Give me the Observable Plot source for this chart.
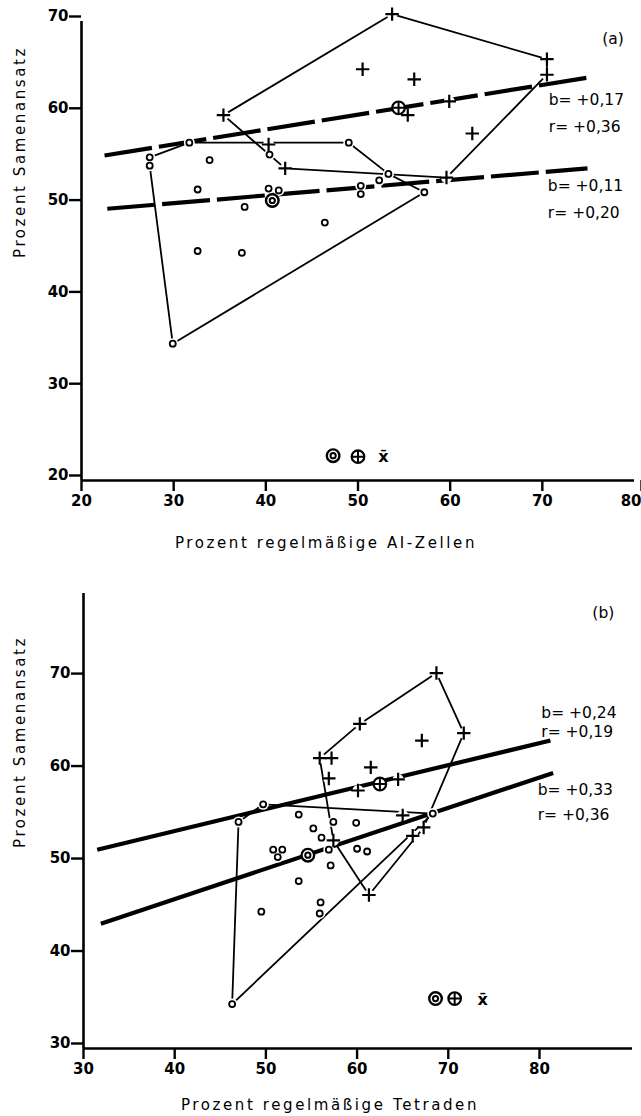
<!DOCTYPE html>
<html><head><meta charset="utf-8">
<script src="https://cdn.jsdelivr.net/npm/d3@7"></script>
<script src="https://cdn.jsdelivr.net/npm/@observablehq/plot@0.6"></script>
<style>
body{margin:0;background:#fff;}
#chart svg{display:block;overflow:visible;}
g[aria-label="x-axis tick label"] text, g[aria-label="y-axis tick label"] text{font-weight:bold;}
</style></head><body><div id="chart"></div>
<script>
// ---------- Panel (a): Prozent regelmäßige AI-Zellen ----------
const aCircles = [[27.4,55.2],[27.4,54.3],[31.7,56.8],[33.9,54.9],[32.6,51.7],[37.7,49.8],[40.4,55.5],[40.3,51.8],[41.4,51.6],[32.6,45.0],[37.4,44.8],[29.9,34.9],[49.0,56.8],[53.3,53.4],[52.3,52.7],[50.3,52.1],[50.3,51.2],[57.2,51.4],[46.4,48.1]];
const aPluses = [[53.7,70.8],[70.5,65.9],[70.5,64.2],[50.5,64.8],[56.1,63.7],[59.9,61.3],[62.4,57.8],[55.4,59.8],[59.6,53.0],[35.4,59.8],[40.3,56.6],[42.1,54.0]];
const aMeanCircle = [[40.7,50.5]];
const aMeanPlus = [[54.4,60.6]];
const aHullPlus = [[35.4,59.8],[53.7,70.8],[70.5,65.9],[70.5,64.2],[59.6,53.0],[42.1,54.0],[35.4,59.8]];
const aHullCircle = [[27.4,54.3],[27.4,55.2],[31.7,56.8],[49.0,56.8],[53.3,53.4],[57.2,51.4],[29.9,34.9],[27.4,54.3]];
const aFits = [{x1:22.5,y1:55.4,x2:75.0,y2:63.9},{x1:22.8,y1:49.6,x2:74.9,y2:54.0}];
const aNotes = [{x:76.5,y:68.1,t:"(a)"},{x:70.7,y:61.4,t:"b= +0,17"},{x:70.7,y:58.5,t:"r= +0,36"},{x:70.6,y:52.1,t:"b= +0,11"},{x:70.6,y:49.1,t:"r= +0,20"}];
const aLegend = {circle:[47.3,22.7], plus:[50.0,22.6], label:[52.2,22.6]};
const aXTicks = [20,30,40,50,60,70,80];
const aYTicks = [20,30,40,50,60,70];

// ---------- Panel (b): Prozent regelmäßige Tetraden ----------
const bCircles = [[47.0,54.5],[49.7,56.4],[53.6,55.3],[55.2,53.8],[57.4,54.5],[59.9,54.4],[56.1,52.8],[56.9,51.5],[60.0,51.6],[61.1,51.3],[50.8,51.5],[51.8,51.5],[51.3,50.7],[57.1,49.8],[53.6,48.1],[56.0,45.8],[55.9,44.6],[49.5,44.8],[46.3,34.8],[68.3,55.4]];
const bPluses = [[68.7,70.6],[71.7,64.1],[60.3,65.1],[67.1,63.3],[55.9,61.4],[57.2,61.4],[56.9,59.2],[61.5,60.4],[64.5,59.1],[60.1,57.9],[65.0,55.2],[66.1,53.0],[67.3,53.9],[57.4,52.5],[61.3,46.6]];
const bMeanCircle = [[54.6,50.9]];
const bMeanPlus = [[62.5,58.6]];
const bHullPlus = [[55.9,61.4],[60.3,65.1],[68.7,70.6],[71.7,64.1],[67.3,53.9],[61.3,46.6],[57.4,52.5],[55.9,61.4]];
const bHullCircle = [[46.3,34.8],[47.0,54.5],[49.7,56.4],[68.3,55.4],[46.3,34.8]];
const bFits = [{x1:31.5,y1:51.5,x2:81.2,y2:63.3},{x1:31.9,y1:43.5,x2:81.5,y2:59.8}];
const bNotes = [{x:85.8,y:77.1,t:"(b)"},{x:80.2,y:66.3,t:"b= +0,24"},{x:80.2,y:64.2,t:"r= +0,19"},{x:79.8,y:57.9,t:"b= +0,33"},{x:79.8,y:55.2,t:"r= +0,36"}];
const bLegend = {circle:[68.6,35.4], plus:[70.7,35.4], label:[73.2,35.3]};
const bXTicks = [30,40,50,60,70,80];
const bYTicks = [30,40,50,60,70];

const FONT = "DejaVu Sans, Liberation Sans, sans-serif";
const X = d => d[0], Y = d => d[1];

function panel(o) {
  const pts = [...o.circles, ...o.pluses, ...o.meanC, ...o.meanP];
  const legC = [o.legend.circle], legP = [o.legend.plus];
  const last = o.xTicks[o.xTicks.length - 1];
  const edgeTick = o.xDomain[1] - last < 2;
  const mainTicks = edgeTick ? o.xTicks.slice(0, -1) : o.xTicks;
  const axOpts = {tickSize: 11, tickPadding: 4, fontSize: 15, fontWeight: "bold", strokeWidth: 2.4, label: null, tickFormat: d => d};
  return Plot.plot({
    width: 641, height: o.height,
    marginLeft: o.m[0], marginRight: o.m[1], marginTop: o.m[2], marginBottom: o.m[3],
    style: {fontFamily: FONT, color: "black", background: "white", overflow: "visible"},
    x: {domain: o.xDomain, label: null},
    y: {domain: o.yDomain, label: null},
    marks: [
      Plot.ruleX([o.xDomain[0]], {y1: o.yDomain[0], y2: o.yDomain[1], strokeWidth: 2.6}),
      Plot.ruleY([o.yDomain[0]], {x1: o.xDomain[0], x2: o.xDomain[1], strokeWidth: 2.6}),
      Plot.axisX({ticks: mainTicks, ...axOpts}),
      edgeTick ? Plot.axisX({ticks: [last], ...axOpts, textAnchor: "end", dx: 7}) : null,
      Plot.axisY({ticks: o.yTicks, tickSize: 12, tickPadding: 1, fontSize: 15, fontWeight: "bold", strokeWidth: 2.4, label: null, dy: -5, tickFormat: d => d}),
      Plot.line(o.hullP, {x: X, y: Y, strokeWidth: 1.8}),
      Plot.line(o.hullC, {x: X, y: Y, strokeWidth: 1.8}),
      Plot.link(o.fits, {x1: "x1", y1: "y1", x2: "x2", y2: "y2", strokeWidth: 4.2, strokeDasharray: o.dash}),
      Plot.dot(pts, {x: X, y: Y, r: 5.5, fill: "white"}),
      Plot.dot(o.circles, {x: X, y: Y, r: 3, stroke: "black", strokeWidth: 1.8, fill: "white"}),
      Plot.dot(o.pluses, {x: X, y: Y, symbol: "plus", r: 4.4, stroke: "black", strokeWidth: 2.2}),
      Plot.dot([...o.meanC, ...legC], {x: X, y: Y, r: 6.3, stroke: "black", strokeWidth: 2.4, fill: "white"}),
      Plot.dot([...o.meanC, ...legC], {x: X, y: Y, r: 2.6, stroke: "black", strokeWidth: 2}),
      Plot.dot([...o.meanP, ...legP], {x: X, y: Y, r: 6.3, stroke: "black", strokeWidth: 2.2, fill: "white"}),
      Plot.dot([...o.meanP, ...legP], {x: X, y: Y, symbol: "plus", r: 4.1, stroke: "black", strokeWidth: 2}),
      Plot.text([o.legend.label], {x: X, y: Y, text: () => "x\u0304", fontSize: 16, fontWeight: "bold", textAnchor: "start"}),
      Plot.text(o.notes, {x: "x", y: "y", text: "t", fontSize: 15.5, textAnchor: "start"}),
      Plot.text([o.xTitle], {frameAnchor: "bottom", lineAnchor: "middle", dx: o.xt[0], dy: o.xt[1], fontSize: 15}),
      Plot.text([o.yTitle], {frameAnchor: "left", lineAnchor: "middle", rotate: -90, dx: o.yt[0], dy: o.yt[1], fontSize: 15})
    ].filter(Boolean)
  });
}

const chart = document.getElementById("chart");
chart.append(panel({
  circles: aCircles, pluses: aPluses, meanC: aMeanCircle, meanP: aMeanPlus,
  hullP: aHullPlus, hullC: aHullCircle, fits: aFits, notes: aNotes, legend: aLegend,
  xDomain: [20, 80], yDomain: [20, 70], xTicks: aXTicks, yTicks: aYTicks,
  height: 560, m: [81, 7, 21, 80], dash: "48,7",
  xTitle: "Prozent regelmäßige AI-Zellen", yTitle: "Prozent Samenansatz",
  xt: [-32, 63], yt: [-61, 7]
}));
chart.append(panel({
  circles: bCircles, pluses: bPluses, meanC: bMeanCircle, meanP: bMeanPlus,
  hullP: bHullPlus, hullC: bHullCircle, fits: bFits, notes: bNotes, legend: bLegend,
  xDomain: [30, 90.2], yDomain: [30, 79.2], xTicks: bXTicks, yTicks: bYTicks,
  height: 556, m: [83, 9, 33, 68], dash: null,
  xTitle: "Prozent regelmäßige Tetraden", yTitle: "Prozent Samenansatz",
  xt: [-28, 57], yt: [-63, 27]
}));
// wide letter spacing of the axis titles, as in the original typesetting
d3.selectAll("#chart text").filter(function() { return this.textContent.startsWith("Prozent"); })
  .style("letter-spacing", "2.6px");
</script></body></html>
